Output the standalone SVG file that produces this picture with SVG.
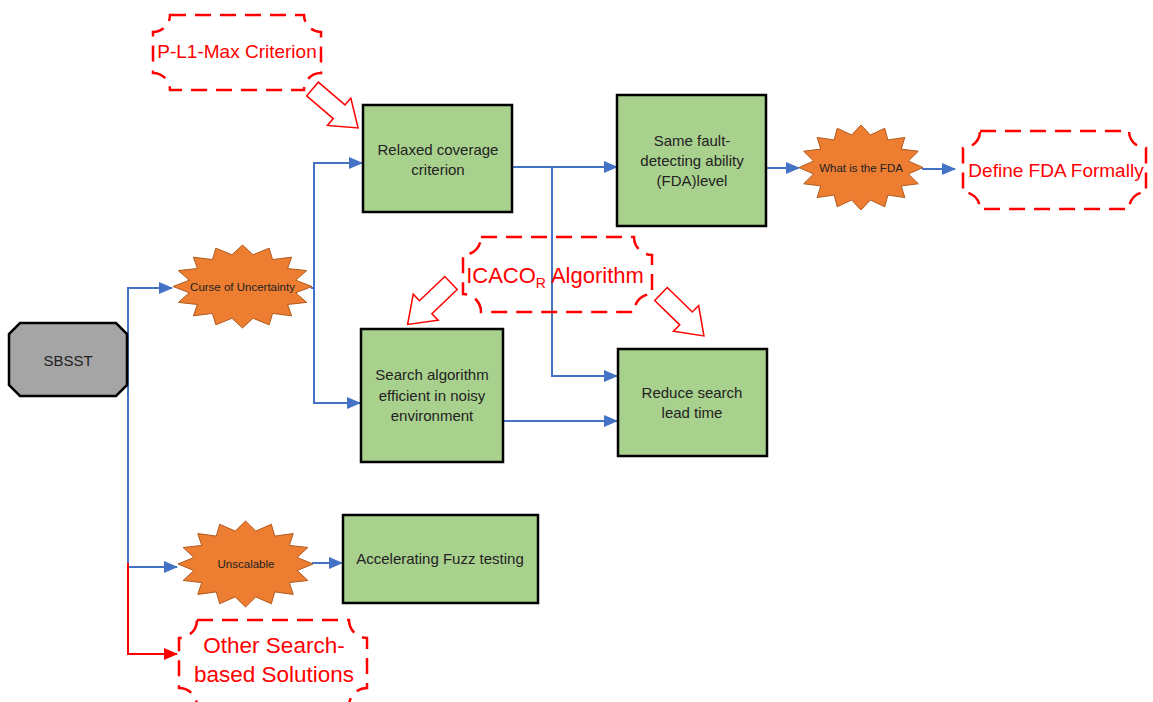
<svg xmlns="http://www.w3.org/2000/svg" xmlns:xlink="http://www.w3.org/1999/xlink" width="1153" height="702" viewBox="0 0 1153 702">
<style>
  text { font-family: "Liberation Sans", Arial, sans-serif; }
  .box { fill: #a9d18e; stroke: #000; stroke-width: 2.5; }
  .btxt { font-size: 15px; fill: #222; text-anchor: middle; }
  .star { fill: #ed7d31; stroke: #b05a1e; stroke-width: 1; }
  .stxt { fill: #222; text-anchor: middle; }
  .plaque { fill: none; stroke: #ff0000; stroke-width: 2.5; stroke-dasharray: 16 9; }
  .ptxt { fill: #ff0000; text-anchor: middle; }
  .blk { fill: #fff; stroke: #ff0000; stroke-width: 1.5; stroke-linejoin: miter; }
  .conn { fill: none; stroke: #4472c4; stroke-width: 2; }
  .connr { fill: none; stroke: #ff0000; stroke-width: 2; }
</style>
<defs>
  <marker id="ab" markerUnits="userSpaceOnUse" markerWidth="14" markerHeight="12" viewBox="0 0 14 12" refX="13" refY="6" orient="auto">
    <path d="M0,0 L14,6 L0,12 z" fill="#4472c4"/>
  </marker>
  <marker id="ar" markerUnits="userSpaceOnUse" markerWidth="14" markerHeight="12" viewBox="0 0 14 12" refX="13" refY="6" orient="auto">
    <path d="M0,0 L14,6 L0,12 z" fill="#ff0000"/>
  </marker>
  <polygon id="starshape" vector-effect="non-scaling-stroke" points="1,0 0.765,0.152 0.924,0.383 0.649,0.433 0.707,0.707 0.433,0.649 0.383,0.924 0.152,0.765 0,1 -0.152,0.765 -0.383,0.924 -0.433,0.649 -0.707,0.707 -0.649,0.433 -0.924,0.383 -0.765,0.152 -1,0 -0.765,-0.152 -0.924,-0.383 -0.649,-0.433 -0.707,-0.707 -0.433,-0.649 -0.383,-0.924 -0.152,-0.765 0,-1 0.152,-0.765 0.383,-0.924 0.433,-0.649 0.707,-0.707 0.649,-0.433 0.924,-0.383 0.765,-0.152"/>
  <polygon id="blockarrow" points="0,-9 35,-9 35,-18 60,0 35,18 35,9 0,9"/>
</defs>

<g id="connectors">
  <path class="conn" d="M128,567 V288 H172" marker-end="url(#ab)"/>
  <path class="conn" d="M128,567 H177" marker-end="url(#ab)"/>
  <path class="connr" d="M128,563 V654 H177" marker-end="url(#ar)"/>
  <path class="conn" d="M311,288 H314 V163 H362" marker-end="url(#ab)"/>
  <path class="conn" d="M314,288 V403 H360" marker-end="url(#ab)"/>
  <path class="conn" d="M512,167 H617" marker-end="url(#ab)"/>
  <path class="conn" d="M552,167 V376 H617" marker-end="url(#ab)"/>
  <path class="conn" d="M503,421 H617" marker-end="url(#ab)"/>
  <path class="conn" d="M767,168 H799" marker-end="url(#ab)"/>
  <path class="conn" d="M922,169 H955" marker-end="url(#ab)"/>
  <path class="conn" d="M312,563 H342" marker-end="url(#ab)"/>
</g>

<g id="block-arrows">
  <use xlink:href="#blockarrow" href="#blockarrow" class="blk" transform="translate(312.5,89) rotate(40.5)"/>
  <use xlink:href="#blockarrow" href="#blockarrow" class="blk" transform="translate(451,283) rotate(136.3)"/>
  <use xlink:href="#blockarrow" href="#blockarrow" class="blk" transform="translate(661,294) rotate(44.3)"/>
</g>

<g id="sbsst">
  <polygon points="20,323 116,323 127,334 127,385 116,396 20,396 9,385 9,334" fill="#a5a5a5" stroke="#000" stroke-width="2.5"/>
  <text x="68" y="366" font-size="15" fill="#222" text-anchor="middle">SBSST</text>
</g>

<g id="curse">
  <use xlink:href="#starshape" href="#starshape" class="star" transform="translate(242.5,286.5) scale(69.5,41.5)"/>
  <text class="stxt" x="242.5" y="291" style="font-size:11.5px">Curse of Uncertainty</text>
</g>

<g id="unscalable">
  <use xlink:href="#starshape" href="#starshape" class="star" transform="translate(245.5,564) scale(67.5,43)"/>
  <text class="stxt" x="246" y="568" style="font-size:11.5px">Unscalable</text>
</g>

<g id="what-fda">
  <use xlink:href="#starshape" href="#starshape" class="star" transform="translate(861,167.5) scale(62,42.5)"/>
  <text class="stxt" x="861" y="172" style="font-size:11.5px">What is the FDA</text>
</g>

<g id="relaxed">
  <rect class="box" x="363" y="105" width="149" height="107"/>
  <text class="btxt" x="438" y="155">Relaxed coverage</text>
  <text class="btxt" x="438" y="175">criterion</text>
</g>

<g id="same-fault">
  <rect class="box" x="617" y="95" width="149" height="131"/>
  <text class="btxt" x="692" y="146">Same fault-</text>
  <text class="btxt" x="692" y="166">detecting ability</text>
  <text class="btxt" x="692" y="186">(FDA)level</text>
</g>

<g id="search-alg">
  <rect class="box" x="361" y="329" width="142" height="133"/>
  <text class="btxt" x="432" y="380">Search algorithm</text>
  <text class="btxt" x="432" y="401">efficient in noisy</text>
  <text class="btxt" x="432" y="421">environment</text>
</g>

<g id="reduce">
  <rect class="box" x="618" y="349" width="149" height="107"/>
  <text class="btxt" x="692" y="398">Reduce search</text>
  <text class="btxt" x="692" y="418">lead time</text>
</g>

<g id="accelerating">
  <rect class="box" x="343" y="515" width="195" height="88"/>
  <text class="btxt" x="440" y="564">Accelerating Fuzz testing</text>
</g>

<g id="pl1max">
  <path class="plaque" d="M170,15 H304 A17,17 0 0 0 321,32 V73 A17,17 0 0 0 304,90 H170 A17,17 0 0 0 153,73 V32 A17,17 0 0 0 170,15 Z"/>
  <text class="ptxt" x="237" y="58" font-size="19">P-L1-Max Criterion</text>
</g>

<g id="icaco">
  <path class="plaque" d="M481,237 H634 A18,18 0 0 0 652,255 V294 A18,18 0 0 0 634,312 H481 A18,18 0 0 0 463,294 V255 A18,18 0 0 0 481,237 Z"/>
  <text class="ptxt" x="555" y="283" font-size="22">ICACO<tspan font-size="14" dy="5">R</tspan><tspan dy="-5"> Algorithm</tspan></text>
</g>

<g id="define-fda">
  <path class="plaque" d="M980,131 H1129 A17,17 0 0 0 1146,148 V192 A17,17 0 0 0 1129,209 H980 A17,17 0 0 0 963,192 V148 A17,17 0 0 0 980,131 Z"/>
  <text class="ptxt" x="1056" y="177" font-size="19">Define FDA Formally</text>
</g>

<g id="other-search">
  <path class="plaque" d="M197,620 H349 A18,18 0 0 0 367,638 V688 A18,18 0 0 0 349,706 H197 A18,18 0 0 0 179,688 V638 A18,18 0 0 0 197,620 Z"/>
  <text class="ptxt" x="274" y="653" font-size="22.5">Other Search-</text>
  <text class="ptxt" x="274" y="682" font-size="22.5">based Solutions</text>
</g>
</svg>
